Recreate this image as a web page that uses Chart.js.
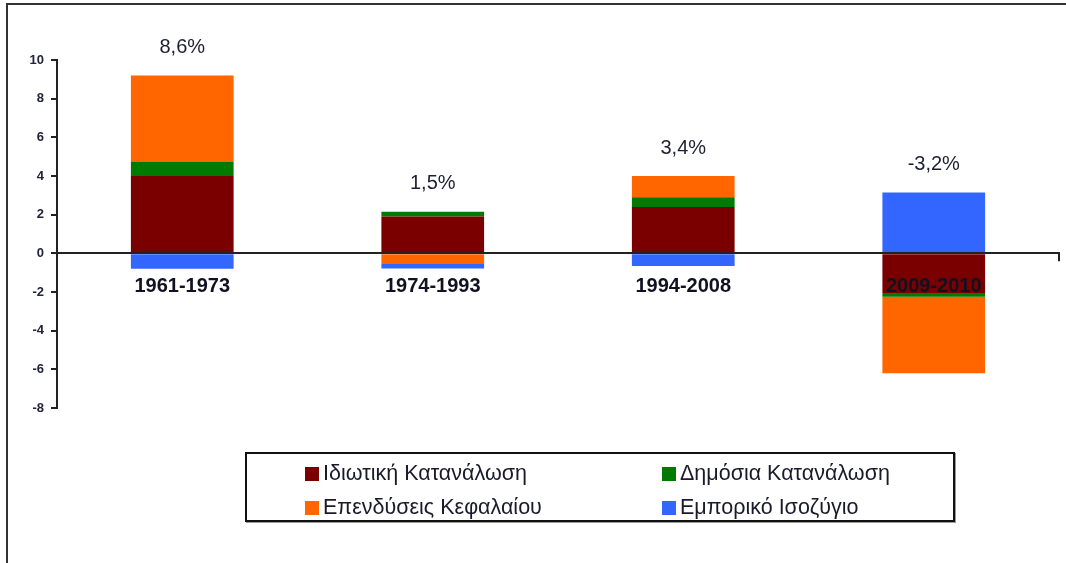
<!DOCTYPE html>
<html>
<head>
<meta charset="utf-8">
<script src="https://cdn.jsdelivr.net/npm/chart.js@4.4.1/dist/chart.umd.min.js"></script>
<style>
  body { margin: 0; background: #fff; }
  #wrap { position: relative; width: 1066px; height: 563px; overflow: hidden; font-family: "Liberation Sans", Arial, sans-serif; }
  #frame { position: absolute; left: 6px; top: 3px; width: 1100px; height: 600px; border-top: 2px solid #333; border-left: 2px solid #333; }
  canvas { position: absolute; left: 0; top: 0; }
  #legend { position: absolute; left: 245px; top: 452px; width: 706px; height: 66px; border: 2px solid #111; box-shadow: 1px 1px 0 #999; background: #fff; }
  .item { position: absolute; display: flex; align-items: center; font-size: 21.5px; color: #1a1a2a; white-space: nowrap; }
  .item span.sw { display: inline-block; width: 14px; height: 14px; margin-right: 4px; }
</style>
</head>
<body>
<div id="wrap">
  <div id="frame"></div>
  <canvas id="chart" width="1066" height="563"></canvas>
  <div id="legend"></div>
</div>
<script>
// periods on the category axis
const periods = ['1961-1973', '1974-1993', '1994-2008', '2009-2010'];

// contributions to growth (percentage points)
const privateCons = [4.0, 1.9, 2.4, -2.05];
const publicCons = [0.75, 0.25, 0.5, -0.2];
const investment = [4.45, -0.55, 1.1, -3.95];
const tradeBalance = [-0.8, -0.23, -0.65, 3.15];

// average growth shown above each bar
const growthLabels = ['8,6%', '1,5%', '3,4%', '-3,2%'];

const yTicks = [-8, -6, -4, -2, 0, 2, 4, 6, 8, 10];

const seriesNames = ['Ιδιωτική Κατανάλωση', 'Δημόσια Κατανάλωση', 'Επενδύσεις Κεφαλαίου', 'Εμπορικό Ισοζύγιο'];
const seriesColors = ['#7a0000', '#007a00', '#ff6600', '#3366ff'];

const FONT = '"Liberation Sans", Arial, sans-serif';

// growth labels above the positive part of each stack
const growthLabelPlugin = {
    id: 'growthLabels',
    afterDraw(chart) {
        const ctx = chart.ctx;
        const y = chart.scales.y;
        const x = chart.scales.x;
        ctx.save();
        ctx.font = '20px ' + FONT;
        ctx.fillStyle = '#1f1f33';
        ctx.textAlign = 'center';
        ctx.textBaseline = 'middle';
        periods.forEach((p, i) => {
            let top = 0;
            chart.data.datasets.forEach(ds => { if (ds.data[i] > 0) top += ds.data[i]; });
            ctx.fillText(growthLabels[i], x.getPixelForValue(i), y.getPixelForValue(top) - 28);
        });
        // small closing tick at the end of the zero line
        const zy = y.getPixelForValue(0);
        ctx.strokeStyle = '#222';
        ctx.lineWidth = 2;
        ctx.beginPath();
        ctx.moveTo(chart.chartArea.right, zy);
        ctx.lineTo(chart.chartArea.right, zy + 8);
        ctx.stroke();
        ctx.restore();
    }
};

const datasets = [privateCons, publicCons, investment, tradeBalance].map((d, i) => ({
    label: seriesNames[i],
    data: d,
    backgroundColor: seriesColors[i],
    borderWidth: 0,
    barPercentage: 1,
    categoryPercentage: 0.41
}));

const chart = new Chart(document.getElementById('chart'), {
    type: 'bar',
    data: { labels: periods, datasets: datasets },
    options: {
        responsive: false,
        animation: false,
        layout: { padding: { top: 60, bottom: 155, left: 0, right: 7 } },
        plugins: {
            legend: { display: false },
            tooltip: { enabled: false }
        },
        scales: {
            x: {
                stacked: true,
                position: { y: 0 },
                grid: { display: false, drawTicks: false },
                border: { display: true, color: '#222', width: 2, z: 1 },
                ticks: {
                    z: 1,
                    padding: 21,
                    color: '#111122',
                    font: { family: FONT, size: 20, weight: 'bold' }
                }
            },
            y: {
                stacked: true,
                min: -8,
                max: 10,
                afterFit(scale) { scale.width = 57; },
                afterBuildTicks(scale) { scale.ticks = yTicks.map(v => ({ value: v })); },
                grid: { drawOnChartArea: false, drawTicks: true, tickLength: 6, color: '#222', lineWidth: 2 },
                border: { display: true, color: '#222', width: 2 },
                ticks: {
                    padding: 7,
                    color: '#222238',
                    font: { family: FONT, size: 13, weight: 'bold' }
                }
            }
        }
    },
    plugins: [growthLabelPlugin]
});

// legend box, 2 x 2, built from the datasets
const legend = document.getElementById('legend');
const slots = [[58, 20], [415, 20], [58, 54], [415, 54]];
chart.data.datasets.forEach((ds, i) => {
    const el = document.createElement('div');
    el.className = 'item';
    el.style.left = slots[i][0] + 'px';
    el.style.top = (slots[i][1] - 13) + 'px';
    el.innerHTML = '<span class="sw" style="background:' + ds.backgroundColor + '"></span>' + ds.label;
    legend.appendChild(el);
});
</script>
</body>
</html>
